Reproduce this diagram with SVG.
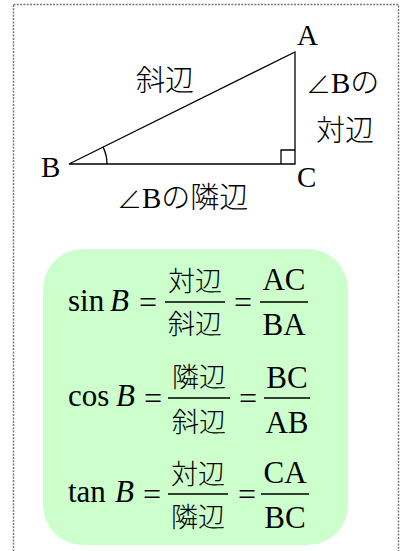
<svg xmlns="http://www.w3.org/2000/svg" width="401" height="551" viewBox="0 0 401 551">
<style>
.lat{font-family:"Liberation Serif","Times New Roman",serif;fill:#000}
.cjk{font-family:"Noto Sans CJK JP","Noto Sans CJK SC",sans-serif;fill:#000;font-weight:300}
.tl{font-size:29px}
.fm{font-size:31px}
.eq{font-size:32px}
.fc{font-size:27px}
.ln{stroke:#000;stroke-width:1.3;fill:none}
.bar{stroke:#000;stroke-width:1.5}
</style>
<rect x="13.5" y="4.5" width="385" height="560" fill="#fff" stroke="#777" stroke-width="1.5" stroke-dasharray="2 1.3"/>
<g id="triangle">
<path class="ln" d="M69,164 L295,52 L295,164 Z"/>
<path class="ln" d="M281,164 V150 H295"/>
<path class="ln" d="M107,164 A38,38 0 0 0 103.1,147.1"/>
</g>
<g id="labels">
<text class="lat tl" x="297" y="45">A</text>
<text class="lat tl" x="41" y="177">B</text>
<text class="lat tl" x="297" y="187">C</text>
<text class="cjk tl" x="136" y="91">斜辺</text>
<text x="306" y="93" class="tl"><tspan class="cjk" font-size="25">∠</tspan><tspan class="lat">B</tspan><tspan class="cjk">の</tspan></text>
<text class="cjk tl" x="316" y="141">対辺</text>
<text x="117" y="208" class="tl"><tspan class="cjk" font-size="25">∠</tspan><tspan class="lat">B</tspan><tspan class="cjk">の隣辺</tspan></text>
</g>
<g id="formulas">
<rect x="43" y="249" width="305" height="296" rx="40" fill="#ccffcc"/>
<g id="sin">
<text class="lat fm" x="68" y="311">sin</text>
<text class="lat fm" x="110" y="311" font-style="italic">B</text>
<text class="lat eq" x="139" y="313">=</text>
<line class="bar" x1="165" y1="302" x2="225" y2="302"/>
<text class="cjk fc" x="195" y="291" text-anchor="middle">対辺</text>
<text class="cjk fc" x="195" y="334" text-anchor="middle">斜辺</text>
<text class="lat eq" x="234" y="313">=</text>
<line class="bar" x1="260" y1="302" x2="308" y2="302"/>
<text class="lat fm" x="284" y="290" text-anchor="middle">AC</text>
<text class="lat fm" x="284" y="335" text-anchor="middle">BA</text>
</g>
<g id="cos">
<text class="lat fm" x="68" y="406">cos</text>
<text class="lat fm" x="116" y="406" font-style="italic">B</text>
<text class="lat eq" x="144" y="409">=</text>
<line class="bar" x1="168" y1="398" x2="230" y2="398"/>
<text class="cjk fc" x="199" y="387" text-anchor="middle">隣辺</text>
<text class="cjk fc" x="199" y="432" text-anchor="middle">斜辺</text>
<text class="lat eq" x="239" y="409">=</text>
<line class="bar" x1="264" y1="398" x2="310" y2="398"/>
<text class="lat fm" x="287" y="388" text-anchor="middle">BC</text>
<text class="lat fm" x="287" y="433" text-anchor="middle">AB</text>
</g>
<g id="tan">
<text class="lat fm" x="68" y="502">tan</text>
<text class="lat fm" x="115" y="502" font-style="italic">B</text>
<text class="lat eq" x="143" y="505">=</text>
<line class="bar" x1="168" y1="494" x2="228" y2="494"/>
<text class="cjk fc" x="198" y="484" text-anchor="middle">対辺</text>
<text class="cjk fc" x="198" y="527" text-anchor="middle">隣辺</text>
<text class="lat eq" x="238" y="505">=</text>
<line class="bar" x1="261" y1="494" x2="309" y2="494"/>
<text class="lat fm" x="285" y="483" text-anchor="middle">CA</text>
<text class="lat fm" x="285" y="528" text-anchor="middle">BC</text>
</g>
</g>
</svg>
